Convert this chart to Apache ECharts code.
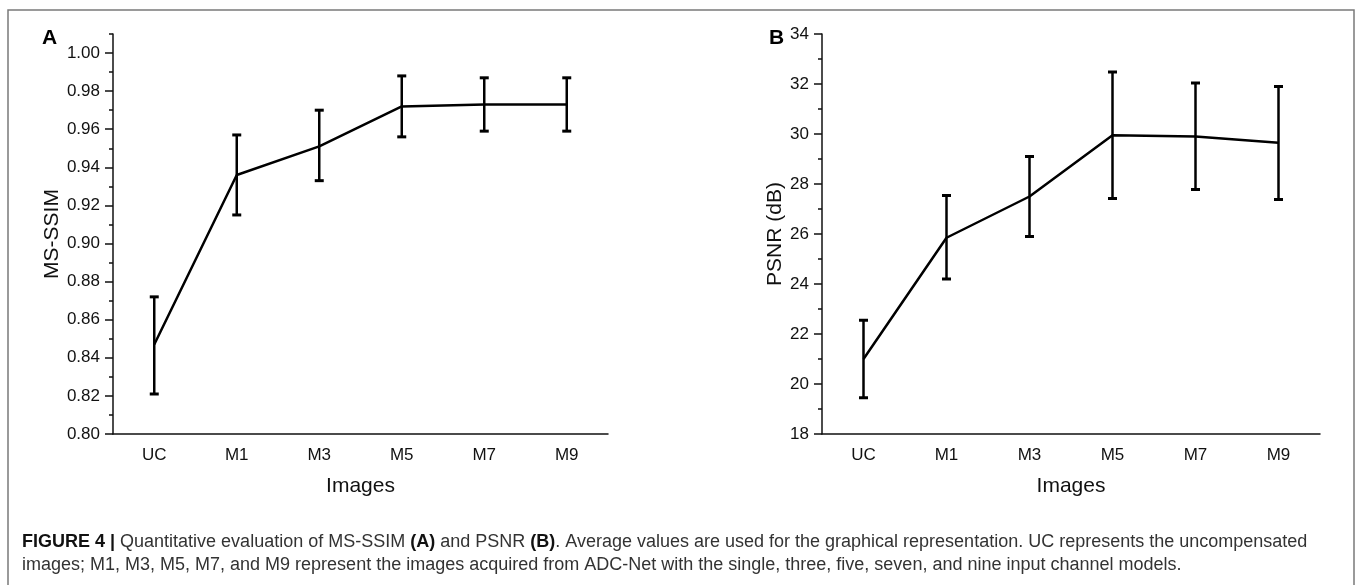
<!DOCTYPE html>
<html>
<head>
<meta charset="utf-8">
<script src="https://cdn.jsdelivr.net/npm/echarts@6/dist/echarts.min.js"></script>
<style>
html,body{margin:0;padding:0;background:#fff;}
#chart{width:1358px;height:585px;}
</style>
</head>
<body>
<div id="chart"></div>
<script>
// ---- Data ----
const categories = ['UC', 'M1', 'M3', 'M5', 'M7', 'M9'];

const ssimMean = [0.847, 0.936, 0.951, 0.972, 0.973, 0.973];
const ssimLow  = [0.821, 0.915, 0.933, 0.956, 0.959, 0.959];
const ssimHigh = [0.872, 0.957, 0.970, 0.988, 0.987, 0.987];

const psnrMean = [21.0, 25.85, 27.5, 29.95, 29.9, 29.65];
const psnrLow  = [19.45, 24.2, 25.9, 27.42, 27.78, 27.38];
const psnrHigh = [22.55, 27.54, 29.1, 32.48, 32.04, 31.9];

const ssimMajorTicks = [0.80, 0.82, 0.84, 0.86, 0.88, 0.90, 0.92, 0.94, 0.96, 0.98, 1.00];
const ssimMinorTicks = [0.81, 0.83, 0.85, 0.87, 0.89, 0.91, 0.93, 0.95, 0.97, 0.99, 1.01];
const psnrMajorTicks = [18, 20, 22, 24, 26, 28, 30, 32, 34];
const psnrMinorTicks = [19, 21, 23, 25, 27, 29, 31, 33];

const captionLine1 = ['FIGURE 4 | ', 'Quantitative evaluation of MS-SSIM ', '(A)', ' and PSNR ', '(B)', '. Average values are used for the graphical representation. UC represents the uncompensated'];
const captionLine2 = 'images; M1, M3, M5, M7, and M9 represent the images acquired from ADC-Net with the single, three, five, seven, and nine input channel models.';

// ---- Chart ----
const FONT = '"Liberation Sans", Arial, sans-serif';
const chart = echarts.init(document.getElementById('chart'), null, {renderer: 'canvas'});

function errorBarRender(params, api) {
  const x = api.value(0);
  const lo = api.coord([x, api.value(1)]);
  const hi = api.coord([x, api.value(2)]);
  const hw = 4.5;
  const st = {stroke: '#000', lineWidth: 2.5};
  return {
    type: 'group',
    children: [
      {type: 'line', shape: {x1: lo[0], y1: lo[1], x2: hi[0], y2: hi[1]}, style: st},
      {type: 'line', shape: {x1: lo[0] - hw, y1: lo[1], x2: lo[0] + hw, y2: lo[1]}, style: {stroke: '#000', lineWidth: 3}},
      {type: 'line', shape: {x1: hi[0] - hw, y1: hi[1], x2: hi[0] + hw, y2: hi[1]}, style: {stroke: '#000', lineWidth: 3}}
    ]
  };
}

const labelStyle = {color: '#111', fontFamily: FONT, fontSize: 17};
const nameStyle = {color: '#111', fontFamily: FONT, fontSize: 21};

function xAxesFor(gridIndex) {
  return [
    {
      type: 'category', gridIndex, data: categories, position: 'bottom', boundaryGap: true,
      axisLine: {lineStyle: {color: '#111', width: 1.5}},
      axisTick: {alignWithLabel: true, length: 8, lineStyle: {color: '#111', width: 1.5}},
      axisLabel: Object.assign({margin: 13}, labelStyle),
      name: 'Images', nameLocation: 'middle', nameGap: 42, nameTextStyle: nameStyle
    },
    {
      type: 'category', gridIndex, data: categories, position: 'bottom', boundaryGap: true, offset: 0,
      axisLine: {show: false},
      axisTick: {alignWithLabel: false, length: 4, lineStyle: {color: '#111', width: 1.5}},
      axisLabel: {show: false}
    }
  ];
}

function yAxesFor(gridIndex, min, max, major, minor, fmt, name, nameGap) {
  return [
    {
      type: 'value', gridIndex, min, max, position: 'left',
      splitLine: {show: false},
      axisLine: {show: true, lineStyle: {color: '#111', width: 1.5}},
      axisTick: {show: true, length: 8, customValues: major, lineStyle: {color: '#111', width: 1.5}},
      axisLabel: Object.assign({customValues: major, formatter: fmt, margin: 13}, labelStyle),
      name, nameLocation: 'middle', nameGap, nameTextStyle: nameStyle
    },
    {
      type: 'value', gridIndex, min, max, position: 'left', offset: 0,
      splitLine: {show: false},
      axisLine: {show: false},
      axisTick: {show: true, length: 4, customValues: minor, lineStyle: {color: '#111', width: 1.5}},
      axisLabel: {show: false}
    }
  ];
}

const option = {
  backgroundColor: '#fff',
  animation: false,
  grid: [
    {left: 113, top: 34, width: 495, height: 400},
    {left: 822, top: 34, width: 498, height: 400}
  ],
  xAxis: [...xAxesFor(0), ...xAxesFor(1)],
  yAxis: [
    ...yAxesFor(0, 0.80, 1.01, ssimMajorTicks, ssimMinorTicks, v => v.toFixed(2), 'MS-SSIM', 50),
    ...yAxesFor(1, 18, 34, psnrMajorTicks, psnrMinorTicks, v => String(Math.round(v)), 'PSNR (dB)', 35)
  ],
  series: [
    {
      type: 'line', xAxisIndex: 0, yAxisIndex: 0, data: ssimMean, showSymbol: false, symbol: 'none',
      lineStyle: {color: '#000', width: 2.5}, z: 3
    },
    {
      type: 'custom', xAxisIndex: 0, yAxisIndex: 0, renderItem: errorBarRender,
      encode: {x: 0, y: [1, 2]},
      data: categories.map((c, i) => [i, ssimLow[i], ssimHigh[i]]), z: 4
    },
    {
      type: 'line', xAxisIndex: 2, yAxisIndex: 2, data: psnrMean, showSymbol: false, symbol: 'none',
      lineStyle: {color: '#000', width: 2.5}, z: 3
    },
    {
      type: 'custom', xAxisIndex: 2, yAxisIndex: 2, renderItem: errorBarRender,
      encode: {x: 0, y: [1, 2]},
      data: categories.map((c, i) => [i, psnrLow[i], psnrHigh[i]]), z: 4
    }
  ],
  graphic: [
    {type: 'rect', shape: {x: 8, y: 10, width: 1346, height: 580}, style: {fill: 'none', stroke: '#7a7a7a', lineWidth: 1.5}, silent: true},
    {type: 'text', x: 42, y: 28, style: {text: 'A', font: 'bold 21px ' + FONT, fill: '#000'}},
    {type: 'text', x: 769, y: 28, style: {text: 'B', font: 'bold 21px ' + FONT, fill: '#000'}},
    {
      type: 'text', x: 22, y: 533,
      style: {
        text: '{b|' + captionLine1[0] + '}' + captionLine1[1] + '{b|' + captionLine1[2] + '}' + captionLine1[3] + '{b|' + captionLine1[4] + '}' + captionLine1[5],
        font: '18px ' + FONT, fill: '#333',
        rich: {b: {fontWeight: 'bold', fontFamily: FONT, fontSize: 18, fill: '#111'}}
      }
    },
    {type: 'text', x: 22, y: 556, style: {text: captionLine2, font: '18px ' + FONT, fill: '#333'}}
  ]
};
chart.setOption(option);
</script>
</body>
</html>
